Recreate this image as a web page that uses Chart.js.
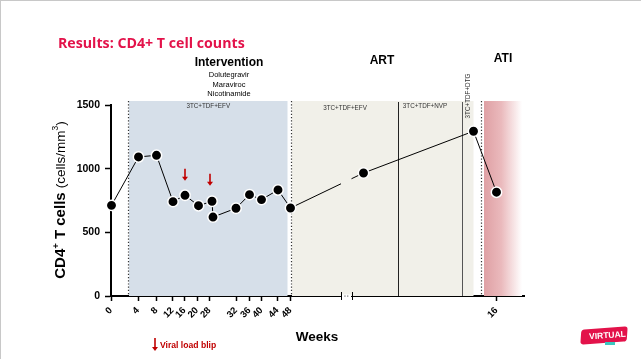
<!DOCTYPE html>
<html>
<head>
<meta charset="utf-8">
<script src="https://cdn.jsdelivr.net/npm/chart.js@4/dist/chart.umd.min.js"></script>
<style>
html,body{margin:0;padding:0;background:#fff;}
#wrap{position:relative;width:641px;height:359px;overflow:hidden;border-top:1px solid #c8c8c8;border-left:1px solid #c8c8c8;box-sizing:border-box;}
canvas{position:absolute;left:0;top:0;}
.t{position:absolute;white-space:nowrap;font-family:"Liberation Sans",Arial,sans-serif;}
</style>
</head>
<body>
<div id="wrap">
<canvas id="c" width="641" height="359"></canvas>
<div class="t" style="left:57px;top:32px;color:#e3124a;font:bold 14.2px 'Open Sans','Liberation Sans',sans-serif;">Results: CD4+ T cell counts</div>
<div class="t" style="left:159px;top:339px;color:#c00000;font:bold 8.6px 'Liberation Sans',Arial,sans-serif;">Viral load blip</div>
<div style="position:absolute;left:580px;top:327px;width:46px;height:15px;background:#e3124a;transform:skew(-8deg) rotate(-4deg);border-radius:3px;"></div>
<div class="t" style="left:588px;top:329px;color:#fff;font:bold 8.5px 'Liberation Sans',Arial,sans-serif;transform:rotate(-4deg);">VIRTUAL</div>
<div style="position:absolute;left:604px;top:341px;width:10px;height:3px;background:#3cc7c0;"></div>
</div>
<script>
// ---- data ----
// x positions on the (broken) timeline axis, in axis units
const tickPositions = [0, 27, 45.5, 61.5, 73.5, 86, 98.5, 125, 138.5, 150.5, 166.5, 179.5, 385.5];
const tickLabels    = ["0", "4", "8", "12", "16", "20", "28", "32", "36", "40", "44", "48", "16"];
const pointPositions = [0.5, 27.5, 45.5, 62, 74, 87.5, 101, 102, 125, 138.5, 150.5, 167, 179.5, 252.5, 362.5, 385.5];
const cd4Counts      = [712, 1092, 1105, 741, 791, 709, 744, 620, 689, 796, 757, 833, 691, 966, 1294, 815];
const blipPositions = [74, 99];
const blipCounts    = [1000, 960];
const phaseNames = ["Intervention", "ART", "ATI"];
const regimens = ["3TC+TDF+EFV", "3TC+TDF+EFV", "3TC+TDF+NVP", "3TC+TDF+DTG"];
const interventionDrugs = ["Dolutegravir", "Maraviroc", "Nicotinamide"];
// region bounds (axis units)
const interventionRange = [18, 176.5];
const artRange = [181, 362.5];
const atiRange = [373, 411];
const dottedLines = [16.5, 179.5, 369.5];
const regimenSwitches = [287, 351];
const axisBreak = [229.5, 241];

const FONT = "'Liberation Sans', Arial, sans-serif";

const overlay = {
  id: 'overlay',
  beforeDatasetsDraw(chart) {
    const {ctx, chartArea: ca, scales: {x, y}} = chart;
    const top = ca.top - 4, bot = ca.bottom;
    ctx.save();
    ctx.fillStyle = '#d6dfe9';
    ctx.fillRect(x.getPixelForValue(interventionRange[0]), top, x.getPixelForValue(interventionRange[1]) - x.getPixelForValue(interventionRange[0]), bot - top);
    ctx.fillStyle = '#f1f0e9';
    ctx.fillRect(x.getPixelForValue(artRange[0]), top, x.getPixelForValue(artRange[1]) - x.getPixelForValue(artRange[0]), bot - top);
    const a0 = x.getPixelForValue(atiRange[0]), a1 = x.getPixelForValue(atiRange[1]);
    const g = ctx.createLinearGradient(a0, 0, a1, 0);
    g.addColorStop(0, '#dfa0a4');
    g.addColorStop(0.45, '#eab9bc');
    g.addColorStop(1, '#ffffff');
    ctx.fillStyle = g;
    ctx.fillRect(a0, top, a1 - a0, bot - top);
    ctx.strokeStyle = '#333';
    ctx.lineWidth = 1.2;
    ctx.setLineDash([1.2, 2]);
    dottedLines.forEach(v => {
      const px = Math.round(x.getPixelForValue(v)) + 0.5;
      ctx.beginPath(); ctx.moveTo(px, top); ctx.lineTo(px, bot); ctx.stroke();
    });
    ctx.setLineDash([]);
    ctx.lineWidth = 1;
    regimenSwitches.forEach((v, i) => {
      const px = Math.round(x.getPixelForValue(v)) + 0.5;
      ctx.strokeStyle = i === 0 ? '#222' : '#555';
      ctx.beginPath(); ctx.moveTo(px, top + 1); ctx.lineTo(px, bot); ctx.stroke();
    });
    ctx.fillStyle = '#333';
    ctx.font = "6.3px " + FONT;
    ctx.textAlign = 'center';
    ctx.textBaseline = 'middle';
    ctx.fillText(regimens[0], (x.getPixelForValue(interventionRange[0]) + x.getPixelForValue(interventionRange[1])) / 2, ca.top + 1);
    ctx.fillText(regimens[1], x.getPixelForValue(234), ca.top + 3);
    ctx.fillText(regimens[2], x.getPixelForValue(314), ca.top + 1.5);
    ctx.save();
    ctx.translate(x.getPixelForValue(357.5), ca.top - 9);
    ctx.rotate(-Math.PI / 2);
    ctx.fillText(regimens[3], 0, 0);
    ctx.restore();
    ctx.restore();
  },
  afterDatasetsDraw(chart) {
    const {ctx, chartArea: ca, scales: {x, y}} = chart;
    ctx.save();
    const b0 = x.getPixelForValue(axisBreak[0]), b1 = x.getPixelForValue(axisBreak[1]);
    ctx.fillStyle = '#f1f0e9';
    ctx.fillRect(b0 + 0.5, ca.top + 10, b1 - b0 - 1, ca.bottom - ca.top - 12);
    ctx.fillStyle = '#c00000';
    ctx.strokeStyle = '#c00000';
    blipPositions.forEach((v, i) => {
      const px = x.getPixelForValue(v), yTop = y.getPixelForValue(blipCounts[i]);
      const yBot = yTop + 12;
      ctx.lineWidth = 1.6;
      ctx.beginPath(); ctx.moveTo(px, yTop); ctx.lineTo(px, yBot - 3); ctx.stroke();
      ctx.beginPath(); ctx.moveTo(px - 3, yBot - 4); ctx.lineTo(px + 3, yBot - 4); ctx.lineTo(px, yBot); ctx.closePath(); ctx.fill();
    });
    ctx.restore();
  },
  afterDraw(chart) {
    const {ctx, chartArea: ca, scales: {x, y}} = chart;
    ctx.save();
    const b0 = x.getPixelForValue(axisBreak[0]), b1 = x.getPixelForValue(axisBreak[1]);
    ctx.fillStyle = '#fff';
    ctx.fillRect(b0 + 1, ca.bottom - 1.5, b1 - b0 - 2, 3.5);
    ctx.strokeStyle = '#000';
    ctx.lineWidth = 1;
    [b0, b1].forEach(px => {
      ctx.beginPath(); ctx.moveTo(Math.round(px) + 0.5, ca.bottom - 4); ctx.lineTo(Math.round(px) + 0.5, ca.bottom + 4); ctx.stroke();
    });
    ctx.fillStyle = '#666';
    [0.38, 0.62].forEach(f => {
      ctx.fillRect(b0 + (b1 - b0) * f - 0.5, ca.bottom - 0.5, 1.2, 1.2);
    });
    ctx.fillStyle = '#000';
    ctx.textAlign = 'center';
    ctx.textBaseline = 'middle';
    ctx.font = "bold 12px " + FONT;
    ctx.fillText(phaseNames[0], x.getPixelForValue(118), 62);
    ctx.fillText(phaseNames[1], x.getPixelForValue(271), 60);
    ctx.fillText(phaseNames[2], x.getPixelForValue(392), 58);
    ctx.font = "7.5px " + FONT;
    interventionDrugs.forEach((d, i) => ctx.fillText(d, x.getPixelForValue(118), 74 + i * 9.5));
    // y-axis title with mixed styles
    ctx.save();
    ctx.translate(60, 199);
    ctx.rotate(-Math.PI / 2);
    ctx.textAlign = 'left';
    ctx.textBaseline = 'middle';
    const parts = [
      ["CD4", "bold 15px " + FONT, 0],
      ["+", "bold 9.5px " + FONT, -5],
      [" T cells ", "bold 15px " + FONT, 0],
      ["(cells/mm", "13.5px " + FONT, 0],
      ["3", "8.5px " + FONT, -5],
      [")", "13.5px " + FONT, 0]
    ];
    let total = 0;
    parts.forEach(p => { ctx.font = p[1]; total += ctx.measureText(p[0]).width; });
    let cx = -total / 2;
    parts.forEach(p => { ctx.font = p[1]; ctx.fillText(p[0], cx, p[2]); cx += ctx.measureText(p[0]).width; });
    ctx.restore();
    ctx.font = "bold 13.5px " + FONT;
    ctx.textAlign = 'center';
    ctx.fillText("Weeks", 316, 336);
    ctx.fillStyle = '#c00000';
    ctx.strokeStyle = '#c00000';
    ctx.lineWidth = 1.6;
    ctx.beginPath(); ctx.moveTo(154, 337); ctx.lineTo(154, 347); ctx.stroke();
    ctx.beginPath(); ctx.moveTo(151, 346); ctx.lineTo(157, 346); ctx.lineTo(154, 350); ctx.closePath(); ctx.fill();
    ctx.restore();
  }
};

new Chart(document.getElementById('c'), {
  type: 'scatter',
  data: {
    datasets: [{
      data: pointPositions.map((p, i) => ({x: p, y: cd4Counts[i]})),
      showLine: true,
      borderColor: '#000',
      borderWidth: 1,
      pointRadius: 5.2,
      pointHoverRadius: 5.2,
      pointBackgroundColor: '#000',
      pointBorderColor: '#fff',
      pointBorderWidth: 1.5,
      clip: false
    }]
  },
  options: {
    responsive: false,
    animation: false,
    events: [],
    layout: {padding: {left: 70, right: 118, top: 104, bottom: 34}},
    plugins: {legend: {display: false}, tooltip: {enabled: false}},
    scales: {
      x: {
        type: 'linear',
        min: 0,
        max: 413,
        afterBuildTicks: s => { s.ticks = tickPositions.map(v => ({value: v})); },
        afterFit: s => { s.height = 30; },
        border: {color: '#000', width: 2},
        grid: {drawOnChartArea: false, drawTicks: true, tickLength: 5, tickWidth: 1.5, tickColor: '#000'},
        ticks: {
          autoSkip: false,
          maxRotation: 45,
          minRotation: 45,
          padding: 4,
          color: '#000',
          font: {family: FONT, size: 9.5, weight: 'bold'},
          callback: (v, i) => tickLabels[i]
        }
      },
      y: {
        min: 0,
        max: 1500,
        afterFit: s => { s.width = 40; },
        border: {color: '#000', width: 2},
        grid: {drawOnChartArea: false, drawTicks: true, tickLength: 6, tickWidth: 1.5, tickColor: '#000'},
        ticks: {
          stepSize: 500,
          padding: 5,
          color: '#000',
          font: {family: FONT, size: 10.5, weight: 'bold'},
          callback: v => String(v)
        }
      }
    }
  },
  plugins: [overlay]
});
</script>
</body>
</html>
